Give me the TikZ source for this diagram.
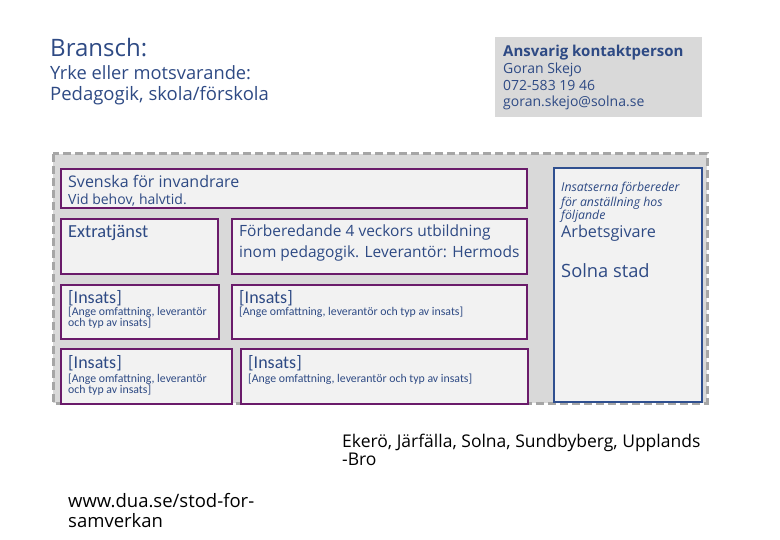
\documentclass[tikz,border=0pt]{standalone}
\usepackage{fontspec}
\setmainfont{Open Sans}
\newfontfamily\calfont{Carlito}
\definecolor{tblue}{HTML}{2E4A84}
\definecolor{pborder}{HTML}{6A1B6A}
\definecolor{bborder}{HTML}{2F4F8F}
\definecolor{lgrey}{HTML}{D9D9D9}
\definecolor{boxfill}{HTML}{F2F2F2}
\definecolor{dgrey}{HTML}{A6A6A6}
\newcommand{\fsz}[1]{\fontsize{#1}{#1}\selectfont}
\begin{document}
\begin{tikzpicture}[x=1pt,y=-1pt,
  txt/.style={anchor=base west,inner sep=0pt,text=tblue},
  pbox/.style={draw=pborder,line width=2pt,fill=boxfill}]
\useasboundingbox (0,0) rectangle (780,540);
% header
\node[txt] (bransch) at (50,57) {\fsz{24}Bransch:};
\node[txt] (yrke) at (50,80) {\fsz{18.3}Yrke eller motsvarande:};
\node[txt] (ped) at (50,101) {\fsz{18.5}Pedagogik, skola/förskola};
\fill[lgrey] (495,37) rectangle (702,117);
\node[txt] (ansv) at (503,57) {\fsz{15}\bfseries Ansvarig kontaktperson};
\node[txt] (goran) at (503,74) {\fsz{14}Goran Skejo};
\node[txt] (tel) at (503,91) {\fsz{14}072-583 19 46};
\node[txt] (mail) at (503,107) {\fsz{14}goran.skejo@solna.se};
% outer dashed
\draw[dgrey,fill=lgrey,line width=3pt,dash pattern=on 8pt off 4pt] (53,154) rectangle (707,403);
% boxes
\draw[pbox] (61,169) rectangle (527,208);
\node[txt] (sfi) at (68,188) {\fsz{16}Svenska för invandrare};
\node[txt] (vid) at (68,205) {\fsz{14}Vid behov, halvtid.};
\draw[pbox] (61,219) rectangle (218,274);
\node[txt] (extra) at (68,238) {\calfont\fsz{18.4}Extratjänst};
\draw[pbox] (232,219) rectangle (527,274);
\node[txt] (forb1) at (239,237) {\fsz{15.5}Förberedande 4 veckors utbildning};
\node[txt] (forb2) at (239,258) {\fsz{15.5}inom pedagogik. Leverantör: Hermods};
% row 2
\draw[pbox] (61,285) rectangle (219,339);
\node[txt] (i1) at (68,304) {\calfont\fsz{18}[Insats]};
\node[txt] (a1) at (68,316) {\calfont\fsz{11.8}[Ange omfattning, leverantör};
\node[txt] (b1) at (68,327) {\calfont\fsz{11.8}och typ av insats]};
\draw[pbox] (232,285) rectangle (527,339);
\node[txt] (i2) at (239,304) {\calfont\fsz{18}[Insats]};
\node[txt] (a2) at (239,316) {\calfont\fsz{11.8}[Ange omfattning, leverantör och typ av insats]};
% row 3
\draw[pbox] (61,349) rectangle (232,404);
\node[txt] (i3) at (68,369) {\calfont\fsz{18}[Insats]};
\node[txt] (a3) at (68,382) {\calfont\fsz{11.8}[Ange omfattning, leverantör};
\node[txt] (b3) at (68,393) {\calfont\fsz{11.8}och typ av insats]};
\draw[pbox] (241,349) rectangle (528,404);
\node[txt] (i4) at (248,369) {\calfont\fsz{18}[Insats]};
\node[txt] (a4) at (248,382) {\calfont\fsz{11.8}[Ange omfattning, leverantör och typ av insats]};
% right box
\draw[bborder,line width=2pt,fill=boxfill] (554,168) rectangle (702,402);
\node[txt] (ins1) at (561,192) {\fsz{12.3}\itshape Insatserna förbereder};
\node[txt] (ins2) at (561,207) {\fsz{12.3}\itshape för anställning hos};
\node[txt] (ins3) at (561,220) {\fsz{12.3}\itshape följande};
\node[txt] (arb) at (561,238) {\fsz{16.2}Arbetsgivare};
\node[txt] (solna) at (561,278) {\fsz{18.3}Solna stad};
% bottom
\node[txt,text=black] (kom1) at (342,447) {\fsz{17.5}Ekerö, Järfälla, Solna, Sundbyberg, Upplands};
\node[txt,text=black] (kom2) at (342,465) {\fsz{17.5}-Bro};
\node[txt,text=black] (www1) at (68,507) {\fsz{18.5}www.dua.se/stod-for-};
\node[txt,text=black] (www2) at (68,527) {\fsz{18.5}samverkan};
\end{tikzpicture}
\end{document}
